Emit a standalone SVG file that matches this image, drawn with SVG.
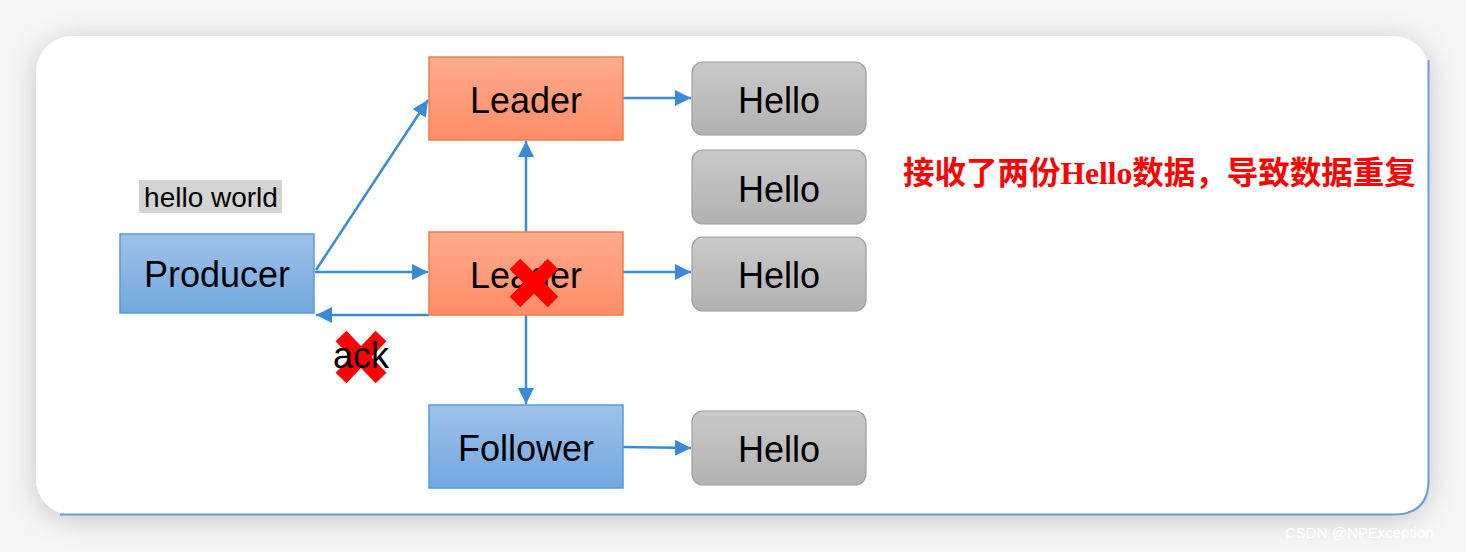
<svg xmlns="http://www.w3.org/2000/svg" width="1466" height="552" viewBox="0 0 1466 552">
<defs>
<linearGradient id="gOrange" x1="0" y1="0" x2="0" y2="1"><stop offset="0" stop-color="#ffab8e"/><stop offset="1" stop-color="#ff8c66"/></linearGradient>
<linearGradient id="gBlue" x1="0" y1="0" x2="0" y2="1"><stop offset="0" stop-color="#9fc1e9"/><stop offset="1" stop-color="#72a8e0"/></linearGradient>
<linearGradient id="gGray" x1="0" y1="0" x2="0" y2="1"><stop offset="0" stop-color="#c9c9c9"/><stop offset="1" stop-color="#b2b2b2"/></linearGradient>
<filter id="shadow" x="-10%" y="-20%" width="120%" height="140%"><feDropShadow dx="0" dy="4" stdDeviation="14" flood-color="#000" flood-opacity="0.2"/></filter>
<marker id="arr" viewBox="0 0 10 10" refX="10" refY="5" markerWidth="16" markerHeight="16" markerUnits="userSpaceOnUse" orient="auto"><path d="M0,0 L10,5 L0,10 z" fill="#3a8ad4"/></marker>
<style>
.orange{fill:url(#gOrange);stroke:#f37c4c;stroke-width:1.5}
.blue{fill:url(#gBlue);stroke:#5b9bd5;stroke-width:1.5}
.gray{fill:url(#gGray);stroke:#9e9e9e;stroke-width:1.2}
.lbl{font-family:"Liberation Sans",Arial,sans-serif;font-size:36px;fill:#000;text-anchor:middle}
.conn line{stroke:#3a8ad4;stroke-width:2.5;marker-end:url(#arr)}
.x{stroke:#ff0000;stroke-width:15;stroke-linecap:butt}
</style>
</defs>
<rect width="1466" height="552" fill="#f6f6f6"/>
<rect x="36" y="36" width="1393" height="479" rx="36" fill="#fff" filter="url(#shadow)"/>
<path d="M1428.5,60 L1428.5,480 Q1428.5,514.5 1394,514.5 L60,514.5" fill="none" stroke="#6d9bd2" stroke-width="2"/>
<text x="1285" y="538" font-family="Liberation Sans,Arial,sans-serif" font-size="15" fill="#ffffff">CSDN @NPException</text>

<g id="connectors" class="conn">
<line x1="316" y1="270" x2="428" y2="100"/>
<line x1="315" y1="272" x2="428" y2="272"/>
<line x1="429" y1="315" x2="316" y2="315"/>
<line x1="526" y1="232" x2="526" y2="141"/>
<line x1="526" y1="315" x2="526" y2="404"/>
<line x1="623" y1="98" x2="691" y2="98"/>
<line x1="623" y1="272" x2="691" y2="272"/>
<line x1="623" y1="447" x2="691" y2="448"/>
</g>

<g id="producer"><rect class="blue" x="120" y="234" width="194" height="79"/><text class="lbl" x="217" y="287">Producer</text></g>
<g id="leader-top"><rect class="orange" x="429" y="57" width="194" height="83"/><text class="lbl" x="526" y="113">Leader</text></g>
<g id="leader-mid"><rect class="orange" x="429" y="232" width="194" height="83"/><text class="lbl" x="526" y="288">Leader</text>
<g class="x"><line x1="515" y1="264" x2="553" y2="302"/><line x1="553" y1="264" x2="515" y2="302"/></g></g>
<g id="follower"><rect class="blue" x="429" y="405" width="194" height="83"/><text class="lbl" x="526" y="461">Follower</text></g>
<g id="hello1"><rect class="gray" x="692" y="62" width="174" height="73" rx="11"/><text class="lbl" x="779" y="113">Hello</text></g>
<g id="hello2"><rect class="gray" x="692" y="150" width="174" height="74" rx="11"/><text class="lbl" x="779" y="202">Hello</text></g>
<g id="hello3"><rect class="gray" x="692" y="237" width="174" height="74" rx="11"/><text class="lbl" x="779" y="288">Hello</text></g>
<g id="hello4"><rect class="gray" x="692" y="411" width="174" height="74" rx="11"/><text class="lbl" x="779" y="462">Hello</text></g>

<g id="hello-world"><rect x="139" y="180" width="143" height="33" fill="#d4d4d4"/><text x="211" y="207" font-family="Liberation Sans,Arial,sans-serif" font-size="28" fill="#000" text-anchor="middle">hello world</text></g>
<g id="ack"><g class="x"><line x1="341" y1="336" x2="381" y2="378"/><line x1="381" y1="336" x2="341" y2="378"/></g><text x="361" y="368" font-family="Liberation Sans,Arial,sans-serif" font-size="36" fill="#000" text-anchor="middle">ack</text></g>
<g id="note"><text x="903" y="184" font-family="Liberation Serif,Noto Sans CJK SC,serif" font-weight="bold" font-size="31.5" fill="#ff0000">接收了两份Hello数据，导致数据重复</text></g>
</svg>
